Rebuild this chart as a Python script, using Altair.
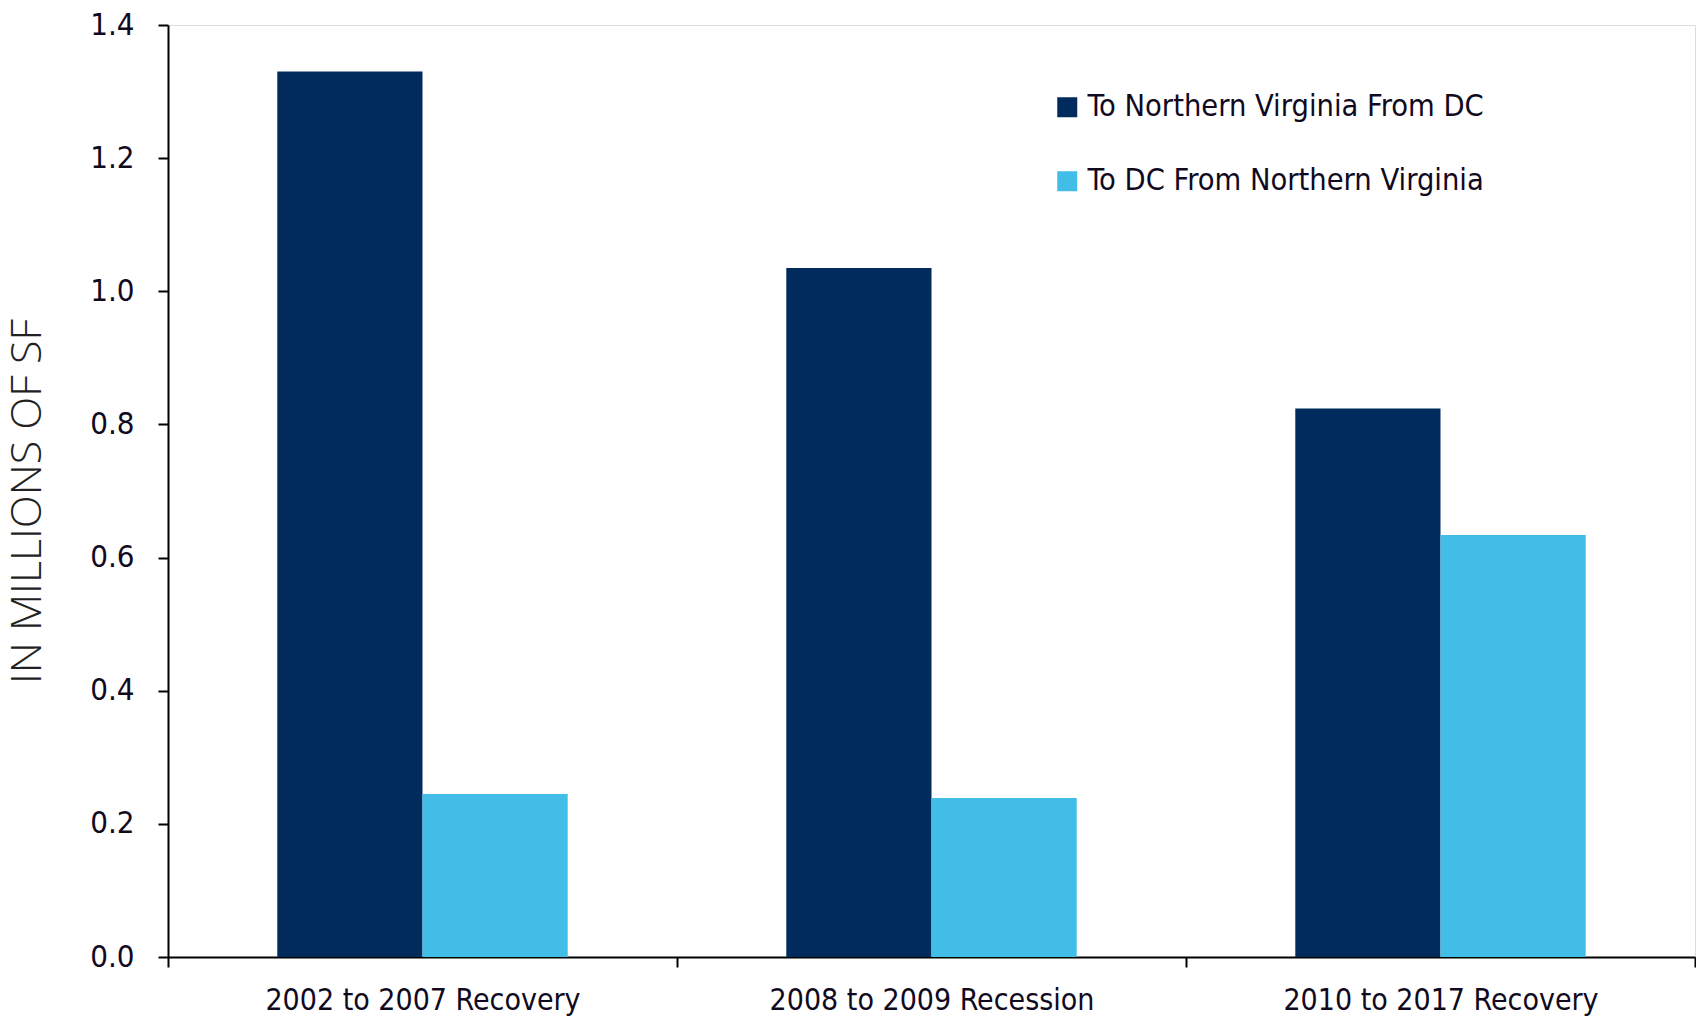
import altair as alt
import pandas as pd

periods = ["2002 to 2007 Recovery", "2008 to 2009 Recession", "2010 to 2017 Recovery"]
series = ["To Northern Virginia From DC", "To DC From Northern Virginia"]
to_nova_from_dc = [1.33, 1.035, 0.824]
to_dc_from_nova = [0.245, 0.239, 0.634]
y_ticks = [0.0, 0.2, 0.4, 0.6, 0.8, 1.0, 1.2, 1.4]
colors = ["#002B5C", "#41BDE8"]

rows = []
for p, a, b in zip(periods, to_nova_from_dc, to_dc_from_nova):
    rows.append({"period": p, "series": series[0], "value": a})
    rows.append({"period": p, "series": series[1], "value": b})
df = pd.DataFrame(rows)

LABEL_FONT = "DejaVu Sans Condensed, Roboto Condensed, Arial Narrow, Liberation Sans Narrow, Roboto, sans-serif"

chart = (
    alt.Chart(df)
    .mark_bar()
    .encode(
        x=alt.X(
            "period:N",
            sort=periods,
            title=None,
            scale=alt.Scale(paddingInner=0, paddingOuter=0),
            axis=alt.Axis(
                tickBand="extent",
                labelAngle=0,
                labelFont=LABEL_FONT,
                labelFontSize=30,
                labelColor="#110a1e",
                labelPadding=18,
                labelLimit=600,
                tickSize=10,
                tickColor="#000",
                tickWidth=2,
                domainColor="#000",
                domainWidth=2,
            ),
        ),
        xOffset=alt.XOffset(
            "series:N",
            sort=series,
            scale=alt.Scale(paddingInner=0, paddingOuter=0.7526),
        ),
        y=alt.Y(
            "value:Q",
            scale=alt.Scale(domain=[0, 1.4], nice=False),
            axis=alt.Axis(
                values=y_ticks,
                format=".1f",
                grid=False,
                title="IN MILLIONS OF SF",
                titleFont="Open Sans",
                titleFontSize=43,
                titleFontWeight=300,
                titleColor="#222",
                titleAngle=-90,
                titleX=-128,
                titleY=476,
                titleAlign="center",
                titleBaseline="alphabetic",
                labelFont=LABEL_FONT,
                labelFontSize=31,
                labelColor="#110a1e",
                labelPadding=24,
                tickSize=10,
                tickColor="#000",
                tickWidth=2,
                domainColor="#000",
                domainWidth=2,
            ),
        ),
        color=alt.Color(
            "series:N",
            sort=series,
            scale=alt.Scale(domain=series, range=colors),
            legend=alt.Legend(
                title=None,
                orient="none",
                legendX=884,
                legendY=67,
                symbolType="square",
                symbolSize=400,
                symbolStrokeWidth=0,
                labelFont=LABEL_FONT,
                labelFontSize=30.5,
                labelColor="#110a1e",
                labelOffset=5,
                rowPadding=43,
                labelLimit=600,
            ),
        ),
    )
    .properties(
        width=1527,
        height=932,
        autosize=alt.AutoSizeParams(type="none"),
        padding={"left": 160, "top": 17, "right": 1, "bottom": 62},
    )
    .configure_view(stroke=None)
    .configure(background="white")
)

chart.save("out.html", embed_options={"renderer": "svg", "actions": False})
